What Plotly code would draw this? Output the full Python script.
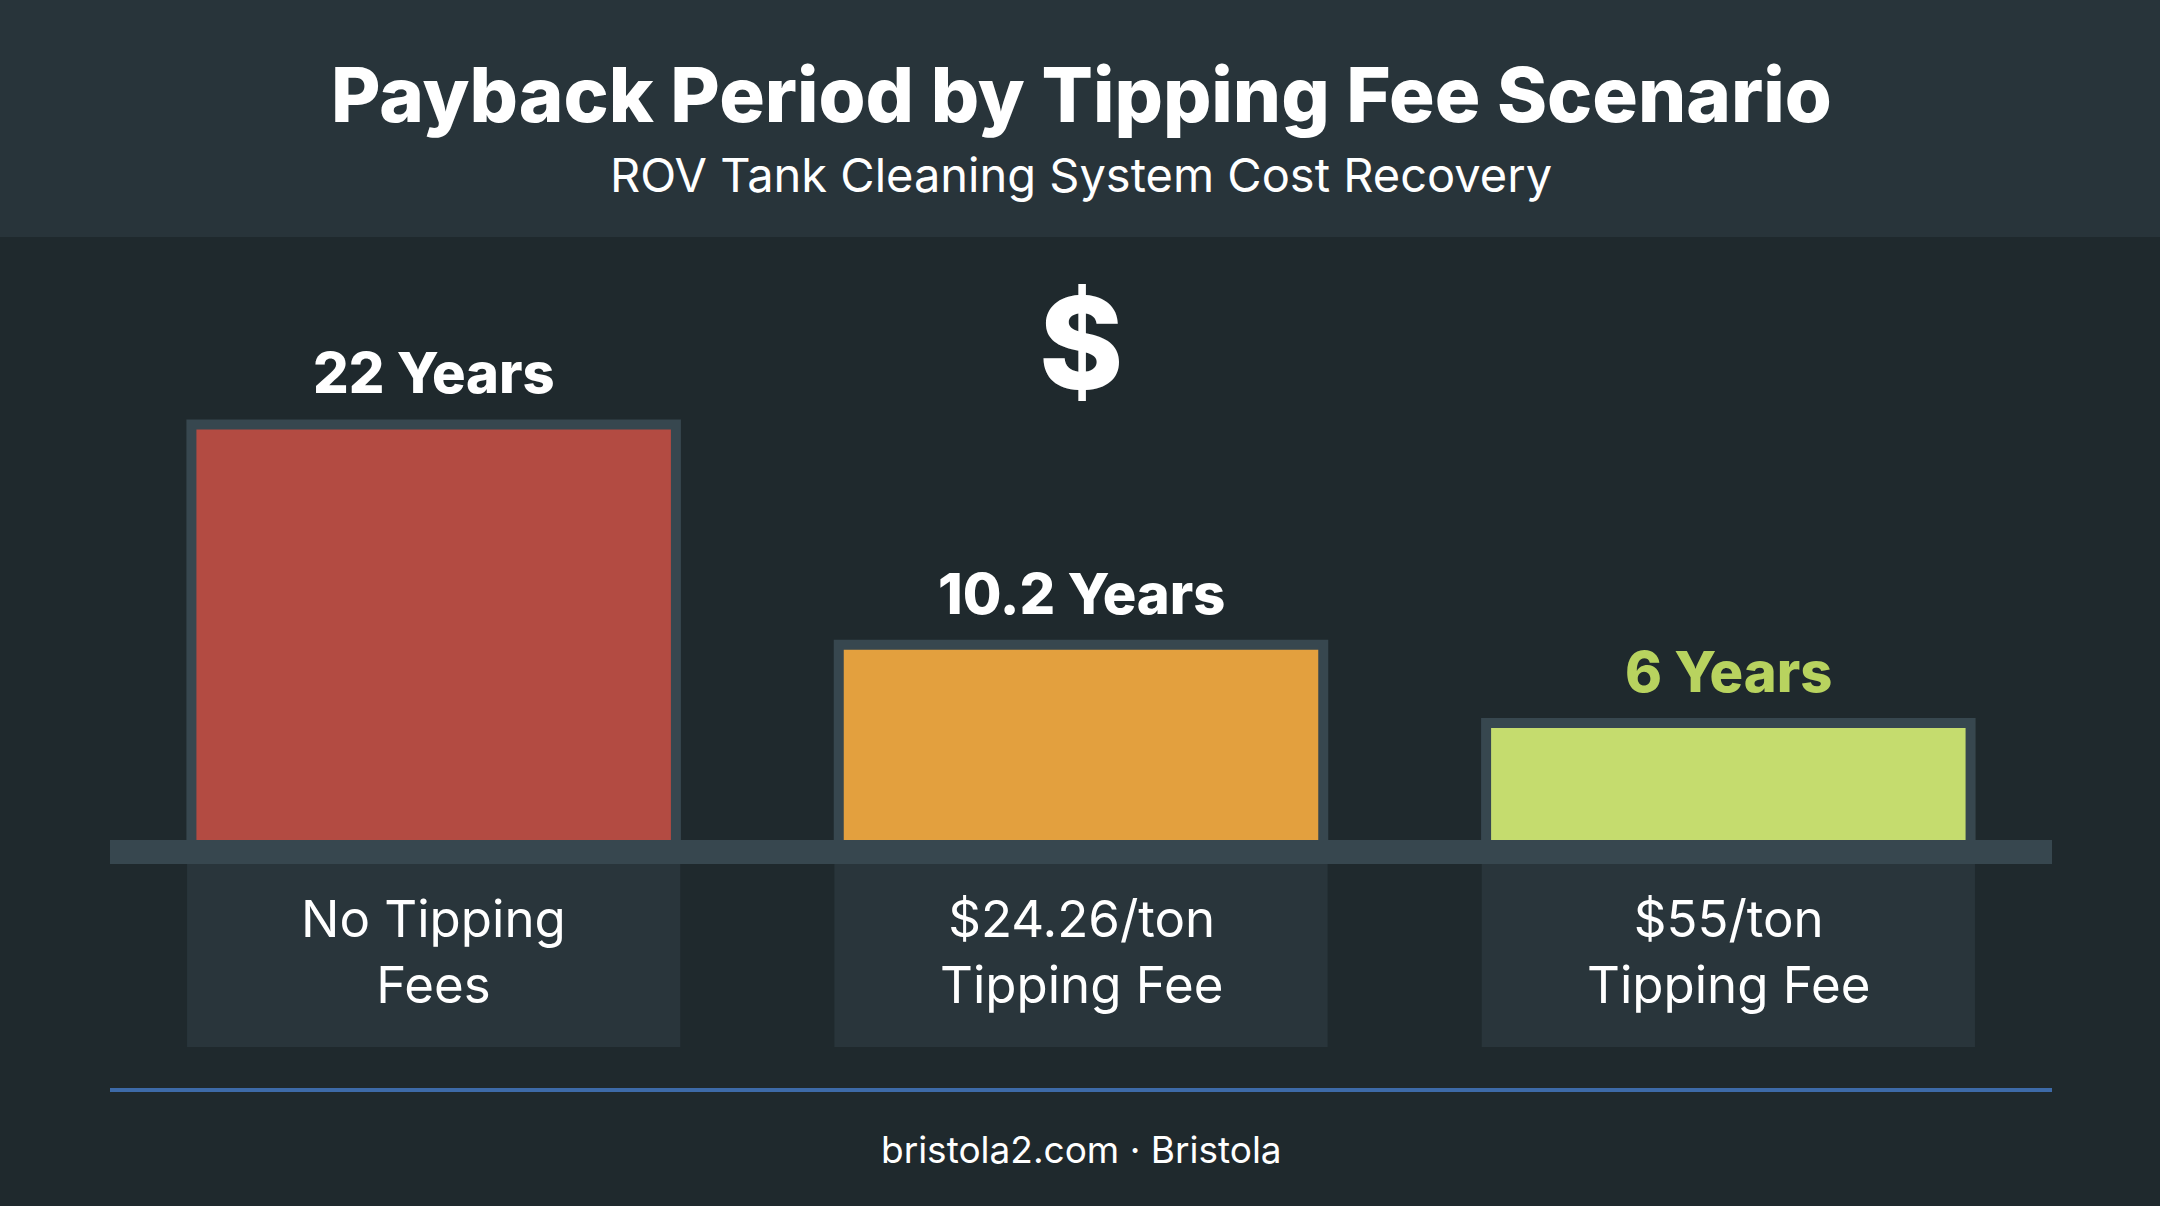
import plotly.graph_objects as go

# chart data
scenarios = ["No Tipping Fees", "$24.26/ton Tipping Fee", "$55/ton Tipping Fee"]
scenario_labels = ["No Tipping<br>Fees", "$24.26/ton<br>Tipping Fee", "$55/ton<br>Tipping Fee"]
payback_years = [22, 10.2, 6]
value_labels = ["22 Years", "10.2 Years", "6 Years"]
bar_colors = ["#b34b42", "#e3a03e", "#c5dc6e"]
value_colors = ["#ffffff", "#ffffff", "#b8d35f"]

BG = "#1f292d"
HEADER = "#28343a"
FRAME = "#37474f"
BOX = "#29353b"
FONT = "Inter"

# plot area: 110..2052 px wide, 240..840 px tall
PLOT_H = 600
px_per_year = 18.66


def py(pixel):
    # figure pixel row -> paper y
    return (840 - pixel) / PLOT_H


fig = go.Figure()

# frame behind each bar (stroke gives the border)
fig.add_trace(go.Bar(
    x=scenarios, y=payback_years, width=0.733,
    marker=dict(color=FRAME, line=dict(color=FRAME, width=20)),
    hoverinfo="skip", showlegend=False,
))
# coloured fill
fig.add_trace(go.Bar(
    x=scenarios, y=payback_years, width=0.733,
    marker=dict(color=bar_colors, line=dict(width=0)),
    hovertemplate="%{x}: %{y} years<extra></extra>", showlegend=False,
))

shapes = [
    # header band
    dict(type="rect", xref="paper", yref="paper", x0=-0.1, x1=1.1,
         y0=py(237), y1=py(-20), fillcolor=HEADER, line_width=0, layer="below"),
    # baseline band
    dict(type="rect", xref="paper", yref="paper", x0=0, x1=1,
         y0=py(840), y1=py(864), fillcolor=FRAME, line_width=0, layer="above"),
    # blue divider
    dict(type="line", xref="paper", yref="paper", x0=0, x1=1,
         y0=py(1090), y1=py(1090), line=dict(color="#3d6aa8", width=4)),
]
for i in range(len(scenarios)):
    shapes.append(dict(type="rect", xref="x", yref="paper",
                       x0=i - 0.381, x1=i + 0.381, y0=py(864), y1=py(1047),
                       fillcolor=BOX, line_width=0, layer="below"))

annotations = [
    dict(text="Payback Period by Tipping Fee Scenario", xref="paper", yref="paper",
         x=0.5, y=py(94), yanchor="middle", showarrow=False,
         font=dict(family=FONT, size=76, color="white", weight=800)),
    dict(text="ROV Tank Cleaning System Cost Recovery", xref="paper", yref="paper",
         x=0.5, y=py(175), yanchor="middle", showarrow=False,
         font=dict(family=FONT, size=47, color="white")),
    dict(text="&#36;", xref="paper", yref="paper", x=0.5, y=py(342),
         yanchor="middle", showarrow=False,
         font=dict(family=FONT, size=128, color="white", weight=800)),
    dict(text="bristola2.com · Bristola", xref="paper", yref="paper",
         x=0.5, y=py(1149), yanchor="middle", showarrow=False,
         font=dict(family=FONT, size=37, color="white")),
]
for cat, val, lab, col in zip(scenarios, payback_years, value_labels, value_colors):
    annotations.append(dict(text=lab, x=cat, y=val, xref="x", yref="y",
                            yshift=56, yanchor="middle", showarrow=False,
                            font=dict(family=FONT, size=56, color=col, weight=800)))
for cat, lab in zip(scenarios, scenario_labels):
    annotations.append(dict(text=lab, x=cat, xref="x", yref="paper", y=py(951),
                            yanchor="middle", showarrow=False,
                            font=dict(family=FONT, size=51, color="white")))

fig.update_layout(
    width=2160, height=1206, autosize=False,
    margin=dict(l=110, r=108, t=240, b=366),
    paper_bgcolor=BG, plot_bgcolor=BG,
    barmode="overlay",
    xaxis=dict(type="category", range=[-0.5, 2.5], showticklabels=False,
               showgrid=False, zeroline=False, showline=False, fixedrange=True),
    yaxis=dict(range=[0, PLOT_H / px_per_year], visible=False,
               showgrid=False, zeroline=False, fixedrange=True),
    shapes=shapes, annotations=annotations,
    showlegend=False,
)

fig.write_html("out.html", config={"displayModeBar": False},
               post_script="document.body.style.margin='0';")
